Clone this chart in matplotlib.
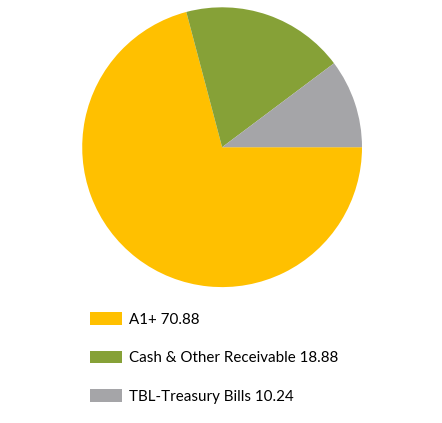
import matplotlib.pyplot as plt

# data
labels = ["A1+ 70.88", "Cash & Other Receivable 18.88", "TBL-Treasury Bills 10.24"]
values = [70.88, 18.88, 10.24]
colors = ["#FFC000", "#86A137", "#A5A5A8"]

plt.rcParams['font.family'] = ['Lato', 'DejaVu Sans']

fig = plt.figure(figsize=(4.42, 4.23), dpi=100)
ax = fig.add_axes([0.186, 0.321, 0.633, 0.662])

wedges, _ = ax.pie(values, colors=colors, startangle=0, counterclock=False,
                   wedgeprops=dict(linewidth=0))
ax.set_xlim(-1, 1)
ax.set_ylim(-1, 1)
ax.set_aspect('equal')
ax.axis('off')

fig.legend(wedges, labels, loc='upper left', bbox_to_anchor=(90 / 442, 1 - 312 / 423),
           frameon=False, fontsize=10.9, handlelength=2.1, handleheight=0.9,
           handletextpad=0.5, labelspacing=1.6, borderpad=0, borderaxespad=0)

fig.savefig("out.png", dpi=100)
